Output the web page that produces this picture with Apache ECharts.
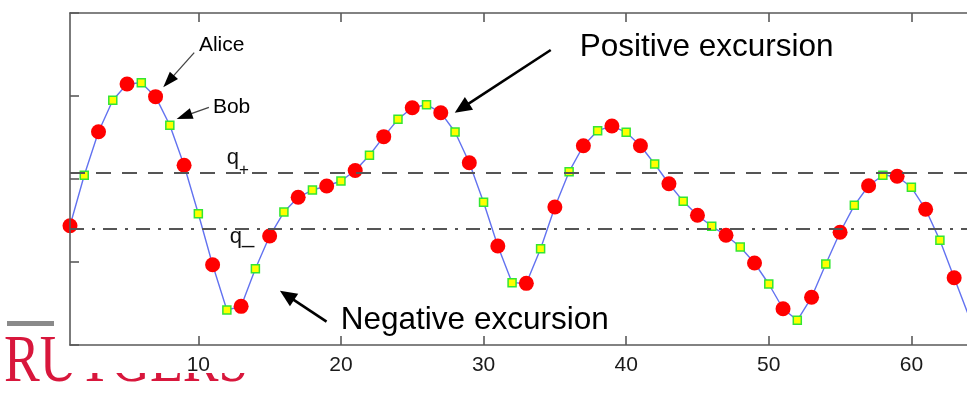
<!DOCTYPE html>
<html>
<head>
<meta charset="utf-8">
<title>Positive and negative excursions</title>
<script src="https://cdn.jsdelivr.net/npm/echarts@6/dist/echarts.min.js"></script>
<style>
  html, body { margin: 0; padding: 0; background: #ffffff; }
  #chart { width: 967px; height: 399px; }
</style>
</head>
<body>
<div id="chart"></div>
<script>
// Sample number along the horizontal axis
const sampleIndex = [
  1, 2, 3, 4, 5, 6, 7, 8, 9, 10, 11, 12, 13, 14, 15, 16,
  17, 18, 19, 20, 21, 22, 23, 24, 25, 26, 27, 28, 29, 30, 31, 32,
  33, 34, 35, 36, 37, 38, 39, 40, 41, 42, 43, 44, 45, 46, 47, 48,
  49, 50, 51, 52, 53, 54, 55, 56, 57, 58, 59, 60, 61, 62, 63, 64
];

// Signal value at each sample (odd samples go to Alice, even samples to Bob)
const signal = [
  -0.563, 0.045, 0.570, 0.948, 1.145, 1.160, 0.992, 0.647,
  0.165, -0.418, -1.033, -1.578, -1.534, -1.081, -0.687, -0.398,
  -0.220, -0.133, -0.084, -0.024, 0.102, 0.286, 0.510, 0.719,
  0.859, 0.895, 0.799, 0.566, 0.196, -0.281, -0.807, -1.249,
  -1.257, -0.840, -0.337, 0.088, 0.401, 0.582, 0.639, 0.563,
  0.401, 0.181, -0.057, -0.269, -0.437, -0.570, -0.678, -0.819,
  -1.012, -1.265, -1.563, -1.702, -1.425, -1.024, -0.642, -0.317,
  -0.081, 0.045, 0.033, -0.100, -0.365, -0.739, -1.189, -1.639
];

// Upper and lower quantisation thresholds
const qPlus = 0.066;
const qMinus = -0.600;

// Horizontal tick labels
const xTicks = [10, 20, 30, 40, 50, 60];

// ---- build series data ----
const curve = sampleIndex.map((x, i) => [x, signal[i]]);
const aliceSamples = curve.filter(p => p[0] % 2 === 1);
const bobSamples = curve.filter(p => p[0] % 2 === 0);

const axisGrey = '#5a5a5a';
const font = '"Liberation Sans", Arial, sans-serif';

// the visible window stops just short of the last sample
const xMin = 1, xMax = 63.9;

const option = {
  animation: false,
  backgroundColor: '#ffffff',
  grid: { left: 70, top: 13, width: 897.6, height: 332, containLabel: false },
  xAxis: [
    {
      type: 'value', min: xMin, max: xMax, position: 'bottom', z: 5,
      axisLine: { show: true, onZero: false, lineStyle: { color: axisGrey, width: 1.6 } },
      axisTick: { show: true, inside: true, length: 9, customValues: xTicks,
                  lineStyle: { color: axisGrey, width: 1.6 } },
      axisLabel: { show: true, customValues: xTicks, fontSize: 21, color: '#1a1a1a',
                   fontFamily: font, margin: 10 },
      splitLine: { show: false }
    },
    {
      type: 'value', min: xMin, max: xMax, position: 'top', z: 5,
      axisLine: { show: true, onZero: false, lineStyle: { color: axisGrey, width: 1.6 } },
      axisTick: { show: true, inside: true, length: 9, customValues: xTicks,
                  lineStyle: { color: axisGrey, width: 1.6 } },
      axisLabel: { show: false },
      splitLine: { show: false }
    }
  ],
  yAxis: [
    {
      type: 'value', min: -2, max: 2, interval: 1, z: 5,
      axisLine: { show: true, onZero: false, lineStyle: { color: axisGrey, width: 1.6 } },
      axisTick: { show: true, inside: true, length: 9, lineStyle: { color: axisGrey, width: 1.6 } },
      axisLabel: { show: false },
      splitLine: { show: false }
    }
  ],
  series: [
    {
      name: 'signal',
      type: 'line',
      xAxisIndex: 0, yAxisIndex: 0,
      data: curve,
      showSymbol: false,
      clip: true,
      lineStyle: { color: '#6272f0', width: 1.4 },
      z: 2,
      markLine: {
        silent: true,
        symbol: 'none',
        label: { show: false },
        data: [
          { yAxis: qPlus, lineStyle: { type: [15, 11], color: '#555555', width: 2 } },
          { yAxis: qMinus, lineStyle: { type: [14, 8, 3, 8], color: '#555555', width: 2 } }
        ]
      }
    },
    {
      name: 'Bob',
      type: 'scatter',
      xAxisIndex: 0, yAxisIndex: 0,
      data: bobSamples,
      clip: true,
      symbol: 'rect',
      symbolSize: 8,
      itemStyle: { color: '#ffff00', borderColor: '#33e633', borderWidth: 1.5, opacity: 1 },
      z: 3
    },
    {
      name: 'Alice',
      type: 'scatter',
      xAxisIndex: 0, yAxisIndex: 0,
      data: aliceSamples,
      clip: true,
      symbol: 'circle',
      symbolSize: 15,
      itemStyle: { color: '#ff0000', opacity: 1 },
      z: 3
    }
  ]
};

const chart = echarts.init(document.getElementById('chart'), null, { renderer: 'canvas' });
chart.setOption(option);

// ---- annotations, anchored in data space ----
const toPx = p => chart.convertToPixel({ xAxisIndex: 0, yAxisIndex: 0 }, p);

const callouts = [
  { text: 'Alice', at: [10.04, 1.614], from: [9.71, 1.522], to: [7.54, 1.105], size: 21, lw: 1.3, head: 16, half: 5.5, color: '#444444' },
  { text: 'Bob', at: [11.02, 0.861], from: [10.74, 0.864], to: [8.48, 0.723], size: 21, lw: 1.3, head: 16, half: 5.5, color: '#444444' },
  { text: 'Positive excursion', at: [36.74, 1.584], from: [34.71, 1.554], to: [27.98, 0.799], size: 31.5, lw: 2.6, head: 17, half: 7.5, color: '#000000' },
  { text: 'Negative excursion', at: [19.99, -1.699], from: [18.99, -1.719], to: [15.72, -1.346], size: 31.5, lw: 2.6, head: 17, half: 7.5, color: '#000000' }
];

const graphics = [];

// university wordmark in the lower-left corner, partly hidden behind the plot panel
graphics.push({
  type: 'rect', silent: true, z: 0,
  shape: { x: 7, y: 321, width: 47, height: 5 },
  style: { fill: '#8a8a8a' }
});
graphics.push({
  type: 'text', silent: true, z: 0,
  x: 4, y: 363.5, scaleX: 0.8,
  style: { text: 'RUTGERS', x: 0, y: 0, fontSize: 67, fontFamily: '"Liberation Serif", serif',
           fill: '#d8173c', align: 'left', verticalAlign: 'middle' }
});
graphics.push({
  type: 'rect', silent: true, z: 1,
  shape: { x: 56, y: 0, width: 911, height: 373 },
  style: { fill: '#ffffff' }
});

callouts.forEach(c => {
  const a = toPx(c.from), b = toPx(c.to), t = toPx(c.at);
  const dx = b[0] - a[0], dy = b[1] - a[1];
  const len = Math.hypot(dx, dy);
  const ux = dx / len, uy = dy / len;
  const bx = b[0] - ux * c.head, by = b[1] - uy * c.head;
  graphics.push({
    type: 'line', silent: true, z: 10,
    shape: { x1: a[0], y1: a[1], x2: b[0] - ux * c.head * 0.6, y2: b[1] - uy * c.head * 0.6 },
    style: { stroke: c.color, lineWidth: c.lw }
  });
  graphics.push({
    type: 'polygon', silent: true, z: 10,
    shape: { points: [[b[0], b[1]], [bx - uy * c.half, by + ux * c.half], [bx + uy * c.half, by - ux * c.half]] },
    style: { fill: '#000000' }
  });
  graphics.push({
    type: 'text', silent: true, z: 10,
    x: t[0], y: t[1],
    style: { text: c.text, fontSize: c.size, fontFamily: font, fill: '#000000',
             align: 'left', verticalAlign: 'middle' }
  });
});

// threshold labels
const qLabels = [
  { text: 'q', at: [12.00, 0.248], size: 22, align: 'left' },
  { text: '+', at: [13.20, 0.100], size: 17, align: 'center' },
  { text: 'q_', at: [12.21, -0.701], size: 22, align: 'left' }
];
qLabels.forEach(q => {
  const p = toPx(q.at);
  graphics.push({
    type: 'text', silent: true, z: 10,
    x: p[0], y: p[1],
    style: { text: q.text, fontSize: q.size, fontFamily: font, fill: '#111111',
             align: q.align, verticalAlign: 'middle' }
  });
});

chart.setOption({ graphic: { elements: graphics } });
</script>
</body>
</html>
